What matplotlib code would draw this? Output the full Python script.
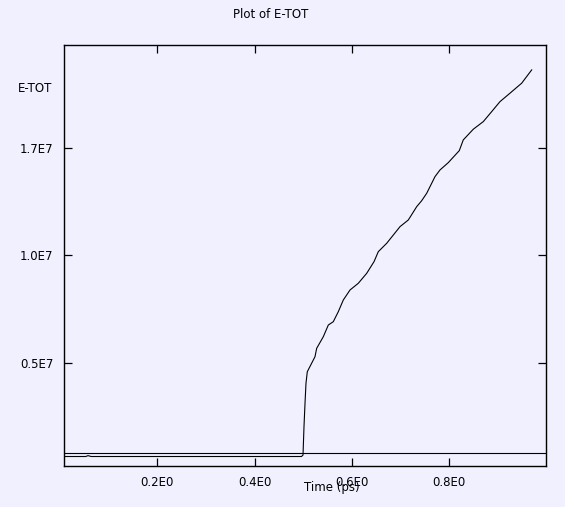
import matplotlib
matplotlib.use("Agg")
import matplotlib.pyplot as plt

# Data (time in ps, E-TOT values)
time_ps = [0.0088, 0.053, 0.0575, 0.064, 0.4962, 0.4993, 0.5013, 0.5034, 0.5054,
           0.5081, 0.5239, 0.5274, 0.5410, 0.5513, 0.5615, 0.5718, 0.5821, 0.5959,
           0.6129, 0.6302, 0.6452, 0.6540, 0.6713, 0.6986, 0.7157, 0.7329, 0.7432,
           0.7535, 0.7705, 0.7808, 0.7978, 0.8204, 0.8286, 0.8492, 0.8697, 0.8870,
           0.9041, 0.9246, 0.9486, 0.9692]
e_tot = [0.068e7, 0.068e7, 0.072e7, 0.068e7, 0.068e7, 0.0747e7, 0.206e7, 0.3145e7,
         0.4072e7, 0.461e7, 0.5306e7, 0.5696e7, 0.6234e7, 0.6776e7, 0.6929e7,
         0.7393e7, 0.7936e7, 0.8400e7, 0.8710e7, 0.9174e7, 0.9712e7, 1.0176e7,
         1.0566e7, 1.1336e7, 1.1646e7, 1.2263e7, 1.2541e7, 1.2885e7, 1.3654e7,
         1.3965e7, 1.4304e7, 1.4860e7, 1.5357e7, 1.5853e7, 1.6205e7, 1.6669e7,
         1.7133e7, 1.7523e7, 1.7986e7, 1.8603e7]
ref_x = [0.0088, 0.9992]
ref_y = [0.0826e7, 0.0826e7]

x_ticks = [0.2, 0.4, 0.6, 0.8]
x_tick_labels = ["0.2E0", "0.4E0", "0.6E0", "0.8E0"]
y_ticks = [0.5e7, 1.0e7, 1.5e7]
y_tick_labels = ["0.5E7", "1.0E7", "1.7E7"]

bg = "#F0F0FF"
fs = 8.5
fig = plt.figure(figsize=(5.65, 5.07), dpi=100, facecolor=bg)
ax = fig.add_axes([64.3 / 565, 1 - 466 / 507, (546.3 - 64.3) / 565, (466 - 44.5) / 507])
ax.set_facecolor(bg)

ax.plot(ref_x, ref_y, color="black", lw=0.8)
ax.plot(time_ps, e_tot, color="black", lw=0.8)

ax.set_xlim(0.0088, 0.9992)
ax.set_ylim(0.024e7, 1.978e7)

ax.set_xticks(x_ticks)
ax.set_xticklabels(x_tick_labels, fontsize=fs)
ax.set_yticks(y_ticks)
ax.set_yticklabels(y_tick_labels, fontsize=fs)
ax.tick_params(axis="both", direction="in", length=5.8, width=0.9,
               top=True, right=True, colors="black")
ax.tick_params(axis="x", pad=7)
ax.tick_params(axis="y", pad=8)
for s in ax.spines.values():
    s.set_linewidth(1.0)
    s.set_color("black")

fig.text(271 / 565, 1 - 14 / 507, "Plot of E-TOT", ha="center", va="center", fontsize=fs)
fig.text(52 / 565, 1 - 88.3 / 507, "E-TOT", ha="right", va="center", fontsize=fs)
fig.text(332 / 565, 1 - 488 / 507, "Time (ps)", ha="center", va="center", fontsize=fs)

fig.savefig("out.png", dpi=100, facecolor=bg)
